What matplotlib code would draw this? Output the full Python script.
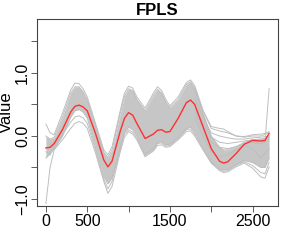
import numpy as np
import matplotlib
matplotlib.use('Agg')
import matplotlib.pyplot as plt

plt.rcParams['font.family'] = ['Liberation Sans', 'DejaVu Sans']

# sample positions (x axis) and curve values
t_grid = [0, 50, 100, 200, 300, 350, 400, 450, 500, 600, 700, 750, 800,
          900, 950, 1000, 1050, 1100, 1200, 1300, 1350, 1400, 1450, 1500,
          1600, 1700, 1750, 1800, 1900, 2000, 2100, 2150, 2200, 2300, 2400,
          2500, 2600, 2650, 2700]

fpls_fit = [-0.19, -0.18, -0.12, 0.10, 0.38, 0.47, 0.49, 0.46, 0.40, 0.04,
            -0.38, -0.49, -0.40, 0.08, 0.28, 0.37, 0.33, 0.20, -0.04, 0.03,
            0.09, 0.10, 0.06, 0.07, 0.28, 0.53, 0.57, 0.50, 0.15, -0.20,
            -0.40, -0.43, -0.41, -0.28, -0.13, -0.07, -0.08, -0.07, 0.04]

upper_curve = [0.19, 0.05, 0.02, 0.36, 0.73, 0.84, 0.83, 0.75, 0.62, 0.20,
               -0.22, -0.30, -0.17, 0.41, 0.68, 0.79, 0.76, 0.62, 0.44, 0.68,
               0.78, 0.72, 0.58, 0.48, 0.62, 0.85, 0.89, 0.80, 0.41, 0.15,
               0.12, 0.11, 0.07, 0.00, -0.01, 0.02, 0.03, 0.04, 0.07]

lower_curve = [-1.07, -0.50, -0.22, -0.06, 0.12, 0.20, 0.23, 0.20, 0.12, -0.27,
               -0.72, -0.91, -0.80, -0.25, -0.02, 0.07, 0.03, -0.06, -0.33, -0.24,
               -0.15, -0.14, -0.18, -0.17, -0.06, 0.07, 0.08, 0.00, -0.22, -0.43,
               -0.55, -0.58, -0.57, -0.49, -0.43, -0.51, -0.65, -0.67, -0.49]

low_curve = [-0.25, -0.30, -0.15, 0.02, 0.22, 0.30, 0.32, 0.29, 0.20, -0.22,
             -0.68, -0.84, -0.72, -0.20, 0.03, 0.10, 0.06, -0.03, -0.31, -0.22,
             -0.12, -0.11, -0.16, -0.15, -0.04, 0.10, 0.11, 0.03, -0.20, -0.42,
             -0.53, -0.56, -0.55, -0.47, -0.41, -0.47, -0.58, -0.60, -0.42]

core_hi = [0.00, -0.05, -0.02, 0.30, 0.68, 0.78, 0.78, 0.70, 0.57, 0.16,
           -0.26, -0.34, -0.22, 0.36, 0.63, 0.75, 0.72, 0.58, 0.40, 0.64,
           0.74, 0.68, 0.54, 0.45, 0.58, 0.82, 0.86, 0.76, 0.36, 0.00,
           -0.18, -0.22, -0.22, -0.17, -0.10, -0.06, -0.05, -0.06, 0.00]

core_lo = [-0.35, -0.28, -0.20, 0.00, 0.30, 0.40, 0.42, 0.38, 0.28, -0.18,
           -0.64, -0.76, -0.66, -0.18, 0.06, 0.14, 0.10, 0.00, -0.29, -0.20,
           -0.10, -0.09, -0.14, -0.13, -0.02, 0.12, 0.14, 0.06, -0.18, -0.40,
           -0.52, -0.54, -0.53, -0.45, -0.39, -0.42, -0.50, -0.50, -0.35]

# separated curves on the right-hand part
t_tail = [1800, 1900, 2000, 2100, 2200, 2300, 2400, 2500, 2600, 2700]
fan_1 = [0.75, 0.40, 0.12, 0.08, 0.05, 0.00, -0.02, 0.00, 0.00, 0.05]
fan_2 = [0.60, 0.30, 0.05, 0.00, -0.03, -0.05, -0.05, -0.03, -0.02, 0.00]
fan_3 = [0.50, 0.20, -0.02, -0.10, -0.12, -0.10, -0.08, -0.06, -0.05, -0.02]
fan_4 = [0.40, 0.10, -0.10, -0.18, -0.20, -0.17, -0.12, -0.10, -0.12, -0.05]
fan_5 = [0.30, 0.00, -0.25, -0.33, -0.30, -0.22, -0.15, -0.20, -0.35, -0.20]

t_spike = [2500, 2600, 2650, 2700]
spike = [-0.10, -0.12, -0.10, 0.75]

grey = '#bebebe'

fig = plt.figure(figsize=(2.89, 2.40), dpi=100)
ax = fig.add_axes([0.128, 0.142, 0.834, 0.779])

ax.fill_between(t_grid, core_lo, core_hi, color='#c6c6c6', lw=0)
for c in [upper_curve, lower_curve, low_curve, core_hi, core_lo]:
    ax.plot(t_grid, c, color=grey, lw=0.7)
for c in [fan_1, fan_2, fan_3, fan_4, fan_5]:
    ax.plot(t_tail, c, color=grey, lw=0.7)
ax.plot(t_spike, spike, color=grey, lw=0.7)
ax.plot(t_grid, fpls_fit, color='#ff3030', lw=1.0)

ax.set_xlim(-108, 2808)
ax.set_ylim(-1.11, 1.857)

ax.set_xticks([0, 500, 1000, 1500, 2000, 2500])
ax.set_xticklabels(['0', '500', '', '1500', '', '2500'])
ax.set_yticks([-1.0, -0.5, 0.0, 0.5, 1.0, 1.5])
ax.set_yticklabels(['\u22121.0', '', '0.0', '', '1.0', ''], rotation=90, va='center')
ax.tick_params(axis='x', length=4, width=0.6, color='#444444', labelsize=11.5, pad=2)
ax.tick_params(axis='y', length=4, width=0.6, color='#444444', labelsize=11.5, pad=1)

for s in ax.spines.values():
    s.set_linewidth(0.8)
    s.set_color('#444444')

ax.set_ylabel('Value', fontsize=12)
ax.yaxis.set_label_coords(-0.094, 0.5)
ax.set_title('FPLS', fontsize=12, fontweight='bold', pad=3)

fig.savefig('out.png', dpi=100)
